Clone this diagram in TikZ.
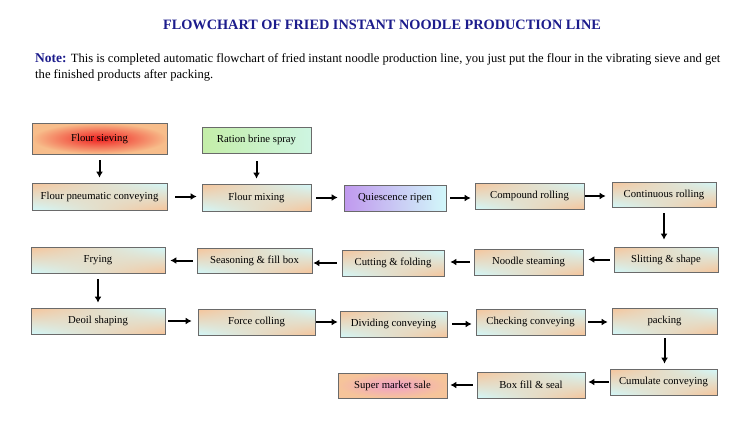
\documentclass[tikz,border=0pt]{standalone}
\usepackage{fontspec}
\setmainfont{Liberation Serif}
\usetikzlibrary{arrows.meta,shadings}
\definecolor{navy}{HTML}{1C1C8C}
\definecolor{peach}{HTML}{F6C49A}
\definecolor{aqua}{HTML}{D2F8FA}
\definecolor{edge}{HTML}{6A6A6A}
\definecolor{redc}{HTML}{F02020}
\definecolor{greenc}{HTML}{C4EEA8}
\definecolor{purplec}{HTML}{C098EE}
\definecolor{pinkc}{HTML}{F0A0C8}
\tikzset{
  basebox/.style={draw=edge, line width=0.8pt, inner sep=0pt, align=center,
    font=\fontsize{10.7}{12}\selectfont},
  box/.style={basebox, upper left=peach, upper right=aqua, lower left=aqua, lower right=peach},
  sieve/.style={basebox, inner color=redc, outer color=peach!90!orange},
  greenbox/.style={basebox, left color=greenc, right color=aqua!70!greenc},
  purplebox/.style={basebox, left color=purplec, right color=aqua},
  pinkbox/.style={basebox, inner color=pinkc, outer color=peach},
  arr/.style={line width=2pt, -{Latex[length=6pt,width=7pt]}},
  gap/.style 2 args={shorten <=#1pt, shorten >=#2pt},
}
\begin{document}
\begin{tikzpicture}[x=1pt,y=-1pt]
\useasboundingbox[fill=white] (0,0) rectangle (746,436);
\node[text=navy, font=\bfseries\fontsize{14.3}{16}\selectfont] (title) at (382,25) {FLOWCHART OF FRIED INSTANT NOODLE PRODUCTION LINE};
\node[anchor=west, inner sep=0pt, font=\fontsize{12.6}{14}\selectfont] (note1) at (35,59) {\textcolor{navy}{\textbf{\fontsize{13.5}{15}\selectfont Note:}} This is completed automatic flowchart of fried instant noodle production line, you just put the flour in the vibrating sieve and get};
\node[anchor=west, inner sep=0pt, font=\fontsize{12.6}{14}\selectfont] (note2) at (35,75) {the finished products after packing.};

\node[sieve, minimum width=135pt, minimum height=31pt] (n1) at (99.5,138.5) {Flour sieving};
\node[greenbox, minimum width=109pt, minimum height=26pt] (n2) at (256.5,140) {Ration brine spray};
\node[box, minimum width=135pt, minimum height=27pt] (n3) at (99.5,196.5) {Flour pneumatic conveying};
\node[box, minimum width=109pt, minimum height=27pt] (n4) at (256.5,197.5) {Flour mixing};
\node[purplebox, minimum width=102pt, minimum height=26pt] (n5) at (395,198) {Quiescence ripen};
\node[box, minimum width=109pt, minimum height=26pt] (n6) at (529.5,196) {Compound rolling};
\node[box, minimum width=104pt, minimum height=25pt] (n7) at (664,194.5) {Continuous rolling};
\node[box, minimum width=104pt, minimum height=25pt] (n8) at (666,259.5) {Slitting \& shape};
\node[box, minimum width=109pt, minimum height=26pt] (n9) at (528.5,262) {Noodle steaming};
\node[box, minimum width=102pt, minimum height=26pt] (n10) at (393,263) {Cutting \& folding};
\node[box, minimum width=115pt, minimum height=25pt] (n11) at (254.5,260.5) {Seasoning \& fill box};
\node[box, minimum width=134pt, minimum height=26pt] (n12) at (98,260) {Frying};
\node[box, minimum width=134pt, minimum height=26pt] (n13) at (98,321) {Deoil shaping};
\node[box, minimum width=117pt, minimum height=26pt] (n14) at (256.5,322) {Force colling};
\node[box, minimum width=107pt, minimum height=26pt] (n15) at (393.5,324) {Dividing conveying};
\node[box, minimum width=109pt, minimum height=26pt] (n16) at (530.5,322) {Checking conveying};
\node[box, minimum width=105pt, minimum height=26pt] (n17) at (664.5,321) {packing};
\node[box, minimum width=107pt, minimum height=26pt] (n18) at (663.5,382) {Cumulate conveying};
\node[box, minimum width=108pt, minimum height=26pt] (n19) at (531,385) {Box fill \& seal};
\node[pinkbox, minimum width=109pt, minimum height=25pt] (n20) at (392.5,385.5) {Super market sale};

\draw[arr, gap={6}{5}] (n1.south -| n3.north) -- (n3.north);
\draw[arr, gap={8}{5}] (n2.south) -- (n2.south |- n4.north);
\draw[arr, gap={8}{5}] (n3.east) -- (n3.east -| n4.west);
\draw[arr, gap={5}{6}] (n4.east) -- (n4.east -| n5.west);
\draw[arr, gap={4}{4}] (n5.east) -- (n5.east -| n6.west);
\draw[arr, gap={1}{6}] (n6.east) -- (n6.east -| n7.west);
\draw[arr, gap={6}{7}] (n7.south) -- (n7.south |- n8.north);
\draw[arr, gap={4}{5}] (n8.west) -- (n8.west -| n9.east);
\draw[arr, gap={4}{6}] (n9.west) -- (n9.west -| n10.east);
\draw[arr, gap={5}{1}] (n10.west) -- (n10.west -| n11.east);
\draw[arr, gap={4}{5}] (n11.west) -- (n11.west -| n12.east);
\draw[arr, gap={6}{5}] (n12.south) -- (n13.north);
\draw[arr, gap={3}{6}] (n13.east) -- (n13.east -| n14.west);
\draw[arr, gap={1}{2}] (n14.east) -- (n14.east -| n15.west);
\draw[arr, gap={5}{4}] (n15.east) -- (n15.east -| n16.west);
\draw[arr, gap={3}{4}] (n16.east) -- (n16.east -| n17.west);
\draw[arr, gap={4}{5}] (n17.south) -- (n17.south |- n18.north);
\draw[arr, gap={1}{3}] (n18.west) -- (n18.west -| n19.east);
\draw[arr, gap={4}{3}] (n19.west) -- (n19.west -| n20.east);
\end{tikzpicture}
\end{document}
